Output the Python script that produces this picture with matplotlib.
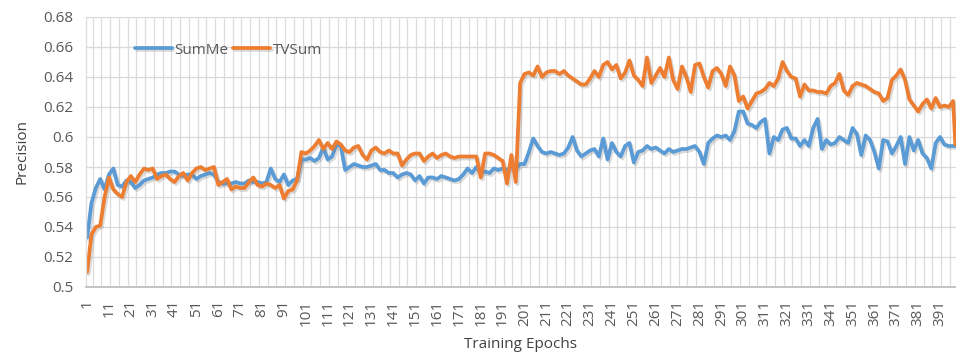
import matplotlib
matplotlib.use("Agg")
import matplotlib.pyplot as plt
import matplotlib.patheffects as pe
from matplotlib.ticker import FuncFormatter
import numpy as np

plt.rcParams['font.family'] = ['Open Sans', 'DejaVu Sans']

# epochs sampled every 2 epochs, plus the final epoch
epochs = list(range(1, 398, 2)) + [398]

summe = [
    0.533, 0.556, 0.566, 0.572, 0.565, 0.575, 0.579, 0.568, 0.567, 0.571, 0.570, 0.566, 0.568, 0.571, 0.572, 0.573, 0.575, 0.576, 0.576, 0.577, 0.577, 0.575, 0.574, 0.575, 0.575,
    0.572, 0.574, 0.575, 0.576, 0.575, 0.570, 0.569, 0.569, 0.569, 0.570, 0.569, 0.569, 0.571, 0.570, 0.570, 0.569, 0.570, 0.579, 0.572, 0.570, 0.575, 0.568, 0.571, 0.572, 0.585,
    0.585, 0.586, 0.584, 0.586, 0.593, 0.585, 0.587, 0.595, 0.594, 0.578, 0.580, 0.582, 0.581, 0.580, 0.580, 0.581, 0.582, 0.578, 0.578, 0.576, 0.576, 0.573, 0.575, 0.576, 0.575,
    0.571, 0.574, 0.569, 0.573, 0.573, 0.572, 0.574, 0.573, 0.572, 0.571, 0.572, 0.575, 0.579, 0.576, 0.580, 0.576, 0.577, 0.576, 0.579, 0.578, 0.579, 0.578, 0.580, 0.579, 0.582,
    0.582, 0.590, 0.599, 0.594, 0.590, 0.589, 0.590, 0.589, 0.588, 0.589, 0.593, 0.600, 0.591, 0.587, 0.589, 0.591, 0.592, 0.587, 0.599, 0.585, 0.596, 0.590, 0.587, 0.594, 0.596,
    0.583, 0.590, 0.591, 0.594, 0.592, 0.593, 0.591, 0.589, 0.592, 0.590, 0.591, 0.592, 0.592, 0.593, 0.594, 0.590, 0.582, 0.596, 0.599, 0.601, 0.600, 0.601, 0.598, 0.604, 0.617,
    0.617, 0.609, 0.608, 0.606, 0.610, 0.612, 0.589, 0.600, 0.598, 0.605, 0.606, 0.599, 0.599, 0.594, 0.598, 0.594, 0.606, 0.612, 0.592, 0.598, 0.595, 0.596, 0.600, 0.598, 0.596,
    0.606, 0.602, 0.588, 0.601, 0.598, 0.590, 0.579, 0.598, 0.597, 0.589, 0.594, 0.600, 0.582, 0.600, 0.591, 0.598, 0.589, 0.586, 0.579, 0.596, 0.600, 0.595, 0.594, 0.594, 0.594,
]

tvsum = [
    0.510, 0.535, 0.540, 0.541, 0.560, 0.573, 0.565, 0.562, 0.560, 0.570, 0.574, 0.570, 0.575, 0.579, 0.578, 0.579, 0.572, 0.574, 0.575, 0.572, 0.570, 0.574, 0.576, 0.571, 0.576,
    0.579, 0.580, 0.578, 0.579, 0.580, 0.568, 0.570, 0.572, 0.565, 0.567, 0.566, 0.566, 0.570, 0.573, 0.568, 0.567, 0.569, 0.568, 0.566, 0.568, 0.559, 0.564, 0.565, 0.571, 0.590,
    0.589, 0.591, 0.594, 0.598, 0.592, 0.596, 0.592, 0.597, 0.595, 0.591, 0.590, 0.593, 0.594, 0.588, 0.585, 0.591, 0.593, 0.590, 0.589, 0.591, 0.589, 0.589, 0.581, 0.585, 0.588,
    0.589, 0.589, 0.584, 0.587, 0.589, 0.586, 0.588, 0.589, 0.587, 0.586, 0.587, 0.587, 0.587, 0.587, 0.587, 0.573, 0.589, 0.589, 0.588, 0.586, 0.584, 0.569, 0.588, 0.570, 0.636,
    0.642, 0.643, 0.641, 0.647, 0.640, 0.643, 0.644, 0.644, 0.642, 0.644, 0.641, 0.639, 0.637, 0.635, 0.635, 0.639, 0.644, 0.640, 0.648, 0.650, 0.645, 0.648, 0.639, 0.643, 0.651,
    0.641, 0.638, 0.634, 0.653, 0.636, 0.641, 0.646, 0.640, 0.653, 0.638, 0.632, 0.647, 0.640, 0.630, 0.648, 0.649, 0.640, 0.633, 0.644, 0.646, 0.642, 0.634, 0.647, 0.641, 0.624,
    0.627, 0.619, 0.624, 0.629, 0.630, 0.632, 0.636, 0.634, 0.639, 0.650, 0.644, 0.640, 0.639, 0.627, 0.635, 0.631, 0.631, 0.630, 0.630, 0.629, 0.634, 0.636, 0.642, 0.631, 0.628,
    0.634, 0.636, 0.635, 0.634, 0.632, 0.630, 0.629, 0.624, 0.626, 0.638, 0.641, 0.645, 0.638, 0.625, 0.621, 0.617, 0.622, 0.625, 0.619, 0.626, 0.620, 0.621, 0.620, 0.624, 0.595,
]

series_names = ["SumMe", "TVSum"]
series_colors = ["#5B9BD5", "#ED7D31"]
x_tick_labels = [str(v) for v in range(1, 400, 10)]
y_ticks = [0.5, 0.52, 0.54, 0.56, 0.58, 0.6, 0.62, 0.64, 0.66, 0.68]

W, H = 956, 360
fig = plt.figure(figsize=(W / 100, H / 100), dpi=100)
left_px, right_px, top_px, bot_px = 86, 956, 17, 287
ax = fig.add_axes([left_px / W, 1 - bot_px / H, (right_px - left_px) / W, (bot_px - top_px) / H])

shadow = [pe.SimpleLineShadow(offset=(1.2, -1.5), shadow_color='#7f7f7f', alpha=0.28, rho=1.0),
          pe.Normal()]
for vals, name, col in zip([summe, tvsum], series_names, series_colors):
    ax.plot(epochs, vals, color=col, lw=2.7, label=name, solid_joinstyle='round',
            solid_capstyle='round', path_effects=shadow)

ax.set_xlim(0.5, 398.3)
ax.set_ylim(0.5, 0.68)
ax.set_yticks(y_ticks)
ax.yaxis.set_major_formatter(FuncFormatter(lambda v, p: f"{round(v, 2):g}"))
ax.set_xticks(list(range(1, 400, 10)))
ax.set_xticklabels(x_tick_labels, rotation=90)
ax.set_xticks(np.arange(3.5, 398, 4), minor=True)

ax.grid(False)
ax.grid(True, axis='y', which='major', color='#D9D9D9', lw=0.9)
ax.grid(True, axis='x', which='minor', color='#DCDCDC', lw=0.9)
ax.set_axisbelow(True)

for s in ['top', 'right']:
    ax.spines[s].set_visible(False)
ax.spines['left'].set_color('#DCDCDC')
ax.spines['left'].set_linewidth(0.9)
ax.spines['bottom'].set_color('#BFBFBF')
ax.spines['bottom'].set_linewidth(1.3)

ax.tick_params(axis='both', which='both', length=0)
ax.tick_params(axis='y', labelsize=11, labelcolor='#595959', pad=9)
ax.tick_params(axis='x', labelsize=11, labelcolor='#595959', pad=9)

ax.set_xlabel("Training Epochs", fontsize=11, color='#404040', labelpad=8)
ax.set_ylabel("Precision", fontsize=11, color='#404040', labelpad=10)

ax.legend(loc='center left', bbox_to_anchor=((135 - left_px) / (right_px - left_px), (bot_px - 50) / (bot_px - top_px)),
          ncol=2, frameon=False, fontsize=11, handlelength=2.4, handletextpad=0.2,
          columnspacing=0.3, borderpad=0, borderaxespad=0, labelcolor='#595959')

fig.savefig("out.png", dpi=100)
